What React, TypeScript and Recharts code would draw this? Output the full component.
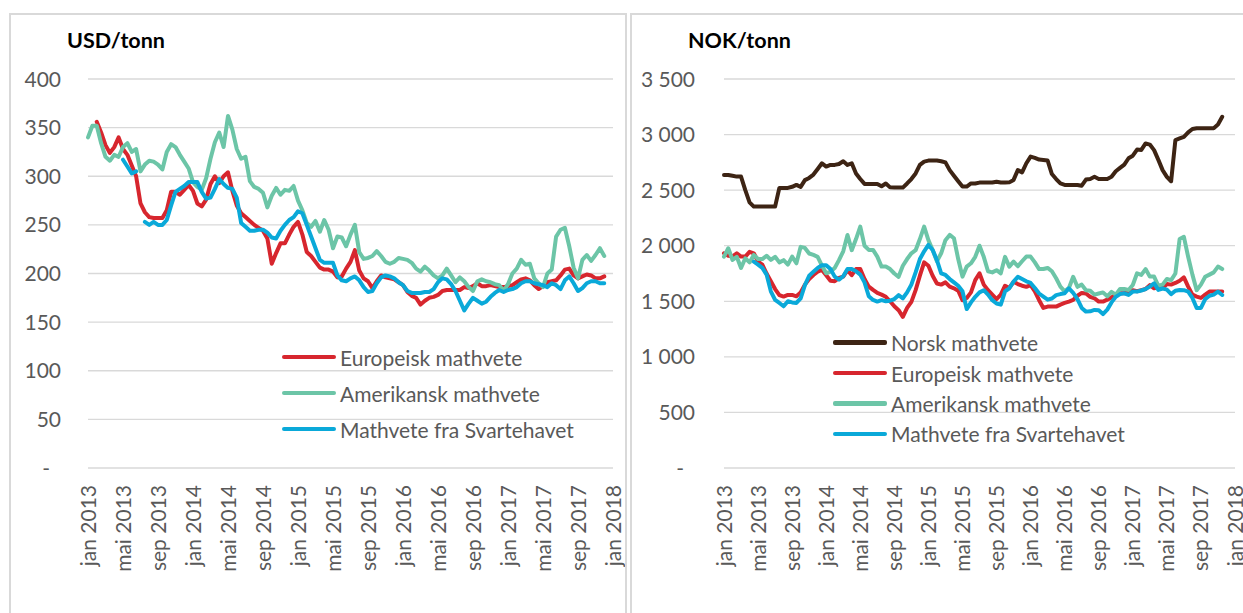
import { CartesianGrid, Legend, Line, LineChart, XAxis, YAxis } from "recharts";

const FONT = 'Lato, "Open Sans", sans-serif';
const GREY = "#595959";
const GRID = "#d9d9d9";

// x axis: months since jan 2013, a label every 4 months
const tickMonths = [0, 4, 8, 12, 16, 20, 24, 28, 32, 36, 40, 44, 48, 52, 56, 60];
const tickLabels = [
  "jan 2013", "mai 2013", "sep 2013",
  "jan 2014", "mai 2014", "sep 2014",
  "jan 2015", "mai 2015", "sep 2015",
  "jan 2016", "mai 2016", "sep 2016",
  "jan 2017", "mai 2017", "sep 2017",
  "jan 2018",
];

const usdTicks = [0, 50, 100, 150, 200, 250, 300, 350, 400];
const nokTicks = [0, 500, 1000, 1500, 2000, 2500, 3000, 3500];

// legend order as in the source (Recharts sorts by name otherwise)
const seriesOrder = ["norsk", "europeisk", "amerikansk", "svartehavet"];

// USD/tonn, one value every half month from jan 2013
const usdEuropeisk = [
  null, null, 356, 345, 332, 324, 330, 340, 328, 322,
  311, 300, 272, 263, 258, 257, 257, 257, 265, 284,
  284, 281, 286, 291, 285, 272, 269, 276, 292, 300,
  293, 300, 304, 285, 270, 262, 258, 254, 250, 247,
  244, 236, 210, 221, 231, 231, 240, 248, 253, 240,
  222, 218, 212, 206, 204, 204, 202, 196, 197, 205,
  212, 224, 203, 195, 192, 185, 192, 198, 196, 195,
  194, 191, 188, 181, 177, 175, 168, 172, 175, 176,
  178, 182, 183, 183, 183, 183, 186, 185, 187, 190,
  187, 187, 188, 187, 186, 186, 187, 188, 191, 194,
  195, 193, 188, 184, 187, 191, 192, 193, 198, 204,
  205, 198, 195, 197, 199, 198, 195, 195, 197,
];
const usdAmerikansk = [
  340, 352, 352, 334, 320, 316, 322, 320, 330, 334,
  325, 328, 305, 312, 316, 315, 312, 307, 325, 333,
  330, 322, 315, 308, 294, 289, 286, 298, 318, 335,
  345, 330, 362, 348, 328, 318, 320, 295, 289, 287,
  283, 268, 280, 288, 281, 286, 285, 290, 275, 265,
  252, 248, 254, 243, 255, 245, 226, 238, 237, 228,
  240, 250, 222, 215, 216, 218, 223, 218, 212, 210,
  212, 216, 215, 214, 211, 205, 202, 207, 203, 198,
  195, 198, 205, 198, 191, 196, 192, 186, 182, 192,
  194, 192, 191, 189, 188, 182, 189, 200, 205, 214,
  209, 210, 195, 190, 186, 200, 204, 238, 245, 247,
  228, 206, 195, 214, 219, 213, 219, 226, 218,
];
const usdSvartehavet = [
  null, null, null, null, null, null, null, null, 317, 310,
  303, 305, null, 253, 250, 253, 250, 250, 255, 270,
  284, 287, 290, 294, 294, 294, 284, 277, 278, 287,
  297, 292, 288, 287, 278, 252, 248, 244, 244, 245,
  245, 242, 237, 236, 244, 250, 255, 258, 264, 262,
  250, 238, 226, 214, 211, 211, 211, 198, 193, 192,
  195, 197, 193, 186, 181, 182, 190, 196, 198, 197,
  195, 191, 188, 182, 180, 180, 180, 181, 181, 184,
  191, 195, 194, 189, 182, 172, 162, 169, 175, 172,
  169, 171, 176, 180, 183, 181, 183, 184, 186, 190,
  192, 192, 190, 189, 188, 186, 190, 188, 184, 193,
  197, 190, 182, 185, 190, 192, 192, 190, 190,
];

// NOK/tonn, one value every half month from jan 2013
const nokNorsk = [
  2637, 2637, 2630, 2622, 2622, 2500, 2390, 2352, 2352, 2352,
  2352, 2352, 2352, 2520, 2520, 2520, 2530, 2547, 2529, 2590,
  2610, 2640, 2690, 2742, 2712, 2727, 2727, 2735, 2760, 2727,
  2742, 2650, 2600, 2556, 2556, 2556, 2556, 2535, 2560, 2525,
  2523, 2523, 2523, 2560, 2600, 2650, 2727, 2757, 2766, 2766,
  2766, 2760, 2750, 2680, 2630, 2580, 2532, 2532, 2560, 2560,
  2568, 2568, 2568, 2568, 2575, 2568, 2568, 2570, 2592, 2680,
  2660, 2742, 2802, 2790, 2775, 2772, 2766, 2645, 2600, 2560,
  2547, 2547, 2547, 2547, 2540, 2595, 2601, 2620, 2601, 2601,
  2601, 2620, 2670, 2700, 2730, 2787, 2810, 2865, 2862, 2920,
  2910, 2860, 2772, 2680, 2620, 2580, 2950, 2965, 2980, 3020,
  3050, 3057, 3057, 3057, 3057, 3057, 3090, 3160,
];
const nokEuropeisk = [
  1932, 1910, 1905, 1932, 1902, 1902, 1945, 1932, 1857, 1830,
  1750, 1680, 1610, 1555, 1542, 1557, 1557, 1545, 1580, 1650,
  1700, 1737, 1767, 1782, 1735, 1685, 1680, 1710, 1722, 1780,
  1735, 1790, 1790, 1700, 1632, 1602, 1575, 1560, 1540, 1500,
  1455, 1420, 1360, 1440, 1495, 1600, 1730, 1850, 1820, 1730,
  1660, 1650, 1670, 1632, 1617, 1595, 1510, 1530, 1580, 1690,
  1752, 1650, 1600, 1560, 1520, 1560, 1640, 1620, 1675, 1655,
  1640, 1630, 1645, 1590, 1510, 1440, 1452, 1452, 1452, 1470,
  1485, 1497, 1512, 1550, 1575, 1570, 1540, 1527, 1497, 1497,
  1515, 1535, 1560, 1572, 1572, 1587, 1600, 1590, 1600, 1610,
  1645, 1617, 1632, 1620, 1655, 1650, 1665, 1685, 1715, 1632,
  1560, 1542, 1530, 1560, 1587, 1587, 1587, 1587,
];
const nokAmerikansk = [
  1902, 1977, 1872, 1900, 1800, 1887, 1850, 1917, 1880, 1880,
  1910, 1872, 1900, 1850, 1870, 1830, 1902, 1842, 1990, 1980,
  1930, 1917, 1900, 1820, 1752, 1767, 1800, 1870, 1950, 2097,
  1960, 2060, 2172, 2000, 1962, 1962, 1902, 1812, 1812, 1790,
  1750, 1720, 1820, 1880, 1932, 1960, 2060, 2172, 2050, 1962,
  1860, 1932, 2050, 2097, 2067, 1880, 1722, 1812, 1842, 1900,
  2000, 1900, 1770, 1760, 1780, 1752, 1900, 1812, 1857, 1815,
  1860, 1902, 1902, 1850, 1790, 1790, 1800, 1770, 1707, 1632,
  1590, 1620, 1720, 1630, 1650, 1600, 1595, 1560, 1570, 1580,
  1545, 1585, 1560, 1610, 1610, 1602, 1647, 1752, 1737, 1790,
  1722, 1722, 1640, 1650, 1700, 1690, 1750, 2060, 2080, 1900,
  1740, 1600, 1650, 1720, 1740, 1760, 1812, 1790,
];
const nokSvartehavet = [
  null, null, null, null, null, null, null, 1857, 1830, 1800,
  1740, 1590, 1512, 1485, 1455, 1500, 1490, 1485, 1527, 1645,
  1730, 1765, 1800, 1825, 1825, 1790, 1722, 1695, 1725, 1790,
  1790, 1770, 1740, 1670, 1545, 1512, 1497, 1510, 1500, 1505,
  1520, 1555, 1527, 1580, 1650, 1760, 1880, 1950, 2007, 1962,
  1870, 1752, 1737, 1700, 1670, 1640, 1590, 1430, 1490, 1540,
  1580, 1600, 1560, 1510, 1480, 1470, 1590, 1617, 1677, 1720,
  1700, 1680, 1665, 1620, 1570, 1542, 1515, 1525, 1555, 1565,
  1572, 1617, 1575, 1520, 1440, 1407, 1410, 1422, 1420, 1385,
  1425, 1490, 1540, 1565, 1572, 1557, 1587, 1587, 1597, 1610,
  1632, 1662, 1602, 1615, 1605, 1565, 1595, 1602, 1600, 1587,
  1530, 1440, 1440, 1520, 1550, 1560, 1587, 1557,
];

const colors = {
  norsk: "#3d2414",
  europeisk: "#d7262e",
  amerikansk: "#6cc5a7",
  svartehavet: "#0aa9d9",
};

const usdRows = usdAmerikansk.map((v, i) => ({
  t: i / 2,
  europeisk: usdEuropeisk[i],
  amerikansk: v,
  svartehavet: usdSvartehavet[i],
}));

const nokRows = nokNorsk.map((v, i) => ({
  t: i / 2,
  norsk: v,
  europeisk: nokEuropeisk[i],
  amerikansk: nokAmerikansk[i],
  svartehavet: nokSvartehavet[i],
}));

const formatNok = (v: number) =>
  v >= 1000 ? `${Math.floor(v / 1000)} ${String(v % 1000).padStart(3, "0")}` : String(v);

const MonthTick = ({ x, y, payload }: any) => (
  <g transform={`translate(${x},${y + 17})`}>
    <text
      transform="rotate(-90)"
      textAnchor="end"
      dy="0.36em"
      fill={GREY}
      fontSize={21}
      fontFamily={FONT}
    >
      {tickLabels[tickMonths.indexOf(payload.value)]}
    </text>
  </g>
);

const ValueTick = ({ x, y, payload, fmt }: any) => (
  <text
    x={x}
    y={y}
    dx={payload.value === 0 ? -11 : 0}
    dy="0.36em"
    textAnchor="end"
    fill={GREY}
    fontSize={21}
    fontFamily={FONT}
  >
    {payload.value === 0 ? "-" : fmt(payload.value)}
  </text>
);

const legendContent = (rowHeight: number) => (props: any) => {
  const items = [...props.payload].sort(
    (a: any, b: any) => seriesOrder.indexOf(a.dataKey) - seriesOrder.indexOf(b.dataKey)
  );
  return (
    <div style={{ fontFamily: FONT, fontSize: 21, color: GREY }}>
      {items.map((p: any) => (
        <div
          key={p.value}
          style={{ display: "flex", alignItems: "center", height: rowHeight }}
        >
          <span
            style={{
              display: "inline-block",
              width: 54,
              height: 4.5,
              borderRadius: 2,
              background: p.color,
              marginRight: 4,
            }}
          />
          <span style={{ whiteSpace: "nowrap", lineHeight: 1 }}>{p.value}</span>
        </div>
      ))}
    </div>
  );
};

const lineProps = {
  type: "linear" as const,
  dot: false,
  strokeWidth: 4,
  strokeLinejoin: "round" as const,
  strokeLinecap: "round" as const,
  isAnimationActive: false,
};

const titleStyle = {
  position: "absolute" as const,
  top: 30,
  fontFamily: FONT,
  fontWeight: 700,
  fontSize: 21.5,
  lineHeight: 1,
  color: "#000",
};

export default function App() {
  return (
    <div
      style={{
        position: "absolute",
        left: 0,
        top: 0,
        width: 1243,
        height: 613,
        overflow: "hidden",
        background: "#fff",
      }}
    >
      <div
        style={{
          position: "absolute",
          left: 9,
          top: 13,
          width: 614,
          height: 640,
          border: `2px solid ${GRID}`,
        }}
      />
      <div
        style={{
          position: "absolute",
          left: 630,
          top: 13,
          width: 640,
          height: 640,
          border: `2px solid ${GRID}`,
        }}
      />

      <div style={{ ...titleStyle, left: 67 }}>USD/tonn</div>
      <div style={{ ...titleStyle, left: 688 }}>NOK/tonn</div>

      <div style={{ position: "absolute", left: 0, top: 0 }}>
        <LineChart
          width={625}
          height={613}
          data={usdRows}
          margin={{ top: 79, right: 12, bottom: 0, left: 0 }}
          style={{ overflow: "visible" }}
        >
          <CartesianGrid vertical={false} stroke={GRID} strokeWidth={1.3} />
          <XAxis
            dataKey="t"
            type="number"
            domain={[0, 60]}
            ticks={tickMonths}
            interval={0}
            height={145}
            axisLine={false}
            tickLine={false}
            tickSize={0}
            tickMargin={0}
            tick={<MonthTick />}
          />
          <YAxis
            domain={[0, 400]}
            ticks={usdTicks}
            width={88}
            axisLine={false}
            tickLine={false}
            tickSize={0}
            tickMargin={27}
            tick={<ValueTick fmt={(v: number) => String(v)} />}
          />
          <Legend
            layout="vertical"
            align="center"
            verticalAlign="middle"
            wrapperStyle={{ left: 282, top: 339, width: 320 }}
            content={legendContent(36)}
          />
          <Line {...lineProps} dataKey="europeisk" name="Europeisk mathvete" stroke={colors.europeisk} />
          <Line {...lineProps} dataKey="amerikansk" name="Amerikansk mathvete" stroke={colors.amerikansk} />
          <Line {...lineProps} dataKey="svartehavet" name="Mathvete fra Svartehavet" stroke={colors.svartehavet} />
        </LineChart>
      </div>

      <div style={{ position: "absolute", left: 630, top: 0 }}>
        <LineChart
          width={613}
          height={613}
          data={nokRows}
          margin={{ top: 79, right: 8, bottom: 0, left: 0 }}
        >
          <CartesianGrid vertical={false} stroke={GRID} strokeWidth={1.3} />
          <XAxis
            dataKey="t"
            type="number"
            domain={[0, 60]}
            ticks={tickMonths}
            interval={0}
            height={145}
            axisLine={false}
            tickLine={false}
            tickSize={0}
            tickMargin={0}
            tick={<MonthTick />}
          />
          <YAxis
            domain={[0, 3500]}
            ticks={nokTicks}
            width={94}
            axisLine={false}
            tickLine={false}
            tickSize={0}
            tickMargin={29}
            tick={<ValueTick fmt={formatNok} />}
          />
          <Legend
            layout="vertical"
            align="center"
            verticalAlign="middle"
            wrapperStyle={{ left: 203, top: 327.5, width: 340 }}
            content={legendContent(30.4)}
          />
          <Line {...lineProps} dataKey="norsk" name="Norsk mathvete" stroke={colors.norsk} />
          <Line {...lineProps} dataKey="europeisk" name="Europeisk mathvete" stroke={colors.europeisk} />
          <Line {...lineProps} dataKey="amerikansk" name="Amerikansk mathvete" stroke={colors.amerikansk} />
          <Line {...lineProps} dataKey="svartehavet" name="Mathvete fra Svartehavet" stroke={colors.svartehavet} />
        </LineChart>
      </div>
    </div>
  );
}
